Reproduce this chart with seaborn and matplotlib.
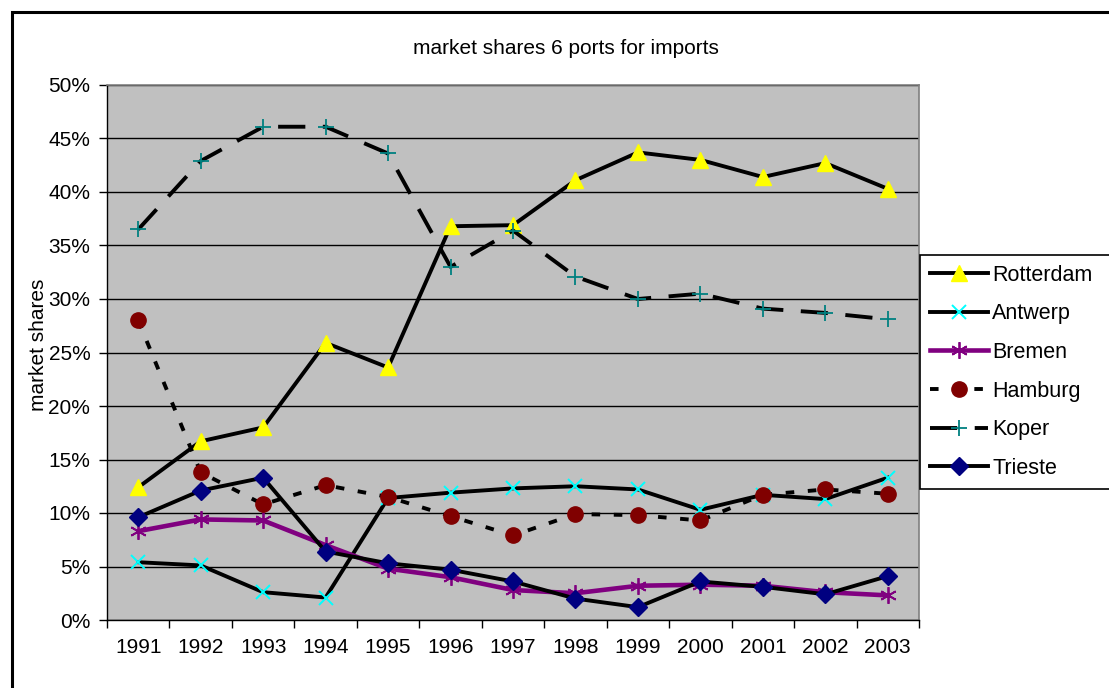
import matplotlib
matplotlib.use("Agg")
import matplotlib.pyplot as plt
import matplotlib.ticker as mticker
from matplotlib.patches import Rectangle
import seaborn as sns
import pandas as pd

# data (market share in %)
years = [1991, 1992, 1993, 1994, 1995, 1996, 1997, 1998, 1999, 2000, 2001, 2002, 2003]
rotterdam = [12.4, 16.7, 18.0, 25.9, 23.6, 36.8, 36.9, 41.1, 43.7, 43.0, 41.4, 42.7, 40.3]
antwerp = [5.4, 5.1, 2.6, 2.1, 11.4, 11.9, 12.3, 12.5, 12.2, 10.3, 11.7, 11.3, 13.3]
bremen = [8.3, 9.4, 9.3, 7.0, 4.8, 4.0, 2.8, 2.5, 3.2, 3.3, 3.2, 2.6, 2.3]
hamburg = [28.0, 13.8, 10.8, 12.6, 11.5, 9.7, 7.9, 9.9, 9.8, 9.3, 11.7, 12.2, 11.8]
koper = [36.5, 42.9, 46.1, 46.1, 43.6, 33.0, 36.4, 32.1, 30.0, 30.5, 29.1, 28.7, 28.1]
trieste = [9.6, 12.1, 13.3, 6.4, 5.3, 4.7, 3.6, 2.0, 1.2, 3.6, 3.1, 2.4, 4.1]

ports = ["Rotterdam", "Antwerp", "Bremen", "Hamburg", "Koper", "Trieste"]
series = [rotterdam, antwerp, bremen, hamburg, koper, trieste]

df = pd.DataFrame({"year": years})
for name, vals in zip(ports, series):
    df[name] = vals

# look of each series (Excel style)
styles = {
    "Rotterdam": dict(color="black", lw=2.8, ls="-", marker="^", ms=12,
                      mfc="#FFFF00", mec="#FFFF00", mew=1),
    "Antwerp": dict(color="black", lw=2.8, ls="-", marker="x", ms=10,
                    mfc="#00FFFF", mec="#00FFFF", mew=1.4),
    "Bremen": dict(color="#800080", lw=3.3, ls="-", marker=(6, 2, 0), ms=12,
                   mfc="#800080", mec="#800080", mew=1.3),
    "Hamburg": dict(color="black", lw=2.8, ls=(0, (2.2, 3.5)), marker="o", ms=11,
                    mfc="#800000", mec="#800000", mew=1),
    "Koper": dict(color="black", lw=2.8, ls=(0, (7, 4.5)), marker="+", ms=12,
                  mfc="#008080", mec="#008080", mew=1.3),
    "Trieste": dict(color="black", lw=2.8, ls="-", marker="D", ms=9,
                    mfc="#000080", mec="#000080", mew=1),
}

plt.rcParams["font.family"] = ["Liberation Sans", "DejaVu Sans"]

fig = plt.figure(figsize=(11.09, 6.88), dpi=100)
ax = fig.add_axes([107 / 1109, 68 / 688, 812 / 1109, 535 / 688])
ax.set_facecolor("#C0C0C0")

for i, name in enumerate(ports):
    st = styles[name]
    sns.lineplot(data=df, x="year", y=name, ax=ax, label=name,
                 color=st["color"], linewidth=st["lw"], linestyle=st["ls"],
                 marker=st["marker"], markersize=st["ms"],
                 markerfacecolor=st["mfc"], markeredgecolor=st["mec"],
                 markeredgewidth=st["mew"], zorder=3 + i)

ax.set_xlim(1990.5, 2003.5)
ax.set_ylim(0, 50)
ax.set_xticks(years)
ax.set_xticklabels([str(y) for y in years])
ax.xaxis.set_minor_locator(mticker.FixedLocator([y - 0.5 for y in years] + [2003.5]))
ax.set_yticks(range(0, 51, 5))
ax.yaxis.set_major_formatter(mticker.FuncFormatter(lambda v, p: f"{v:.0f}%"))
ax.tick_params(axis="x", which="major", length=0, pad=13, labelsize=15)
ax.tick_params(axis="x", which="minor", length=6, width=1, color="black")
ax.tick_params(axis="y", length=6, width=1, pad=6, labelsize=15)
ax.grid(axis="y", color="black", linewidth=1, zorder=1)
ax.set_axisbelow(True)
ax.set_xlabel("")
ax.set_ylabel("")

for s in ["left", "bottom"]:
    ax.spines[s].set_color("black")
    ax.spines[s].set_linewidth(1)
for s in ["top", "right"]:
    ax.spines[s].set_color("#808080")
    ax.spines[s].set_linewidth(1.2)

fig.text(566 / 1109, 1 - 48 / 688, "market shares 6 ports for imports",
         ha="center", va="center", fontsize=15)
fig.text(38 / 1109, 1 - 345 / 688, "market shares", rotation=90,
         ha="center", va="center", fontsize=15)

# legend box runs past the right edge of the picture, like in the original
leg = ax.legend(loc="upper left",
                bbox_to_anchor=(920 / 1109, 1 - 255 / 688, 0.2, 0),
                mode="expand",
                bbox_transform=fig.transFigure, fontsize=15.5, frameon=True,
                fancybox=False, edgecolor="black", facecolor="white",
                framealpha=1, borderaxespad=0, handlelength=2.7,
                handletextpad=0.2, labelspacing=0.82, borderpad=0.45)
leg.get_frame().set_linewidth(1.2)

# outer chart border (cropped on the right and bottom)
fig.patches.append(Rectangle((12 / 1109, -0.1), 1.2, 1 - 12 / 688 + 0.1,
                             transform=fig.transFigure, fill=False,
                             edgecolor="black", linewidth=2.2))

fig.savefig("out.png", dpi=100)
